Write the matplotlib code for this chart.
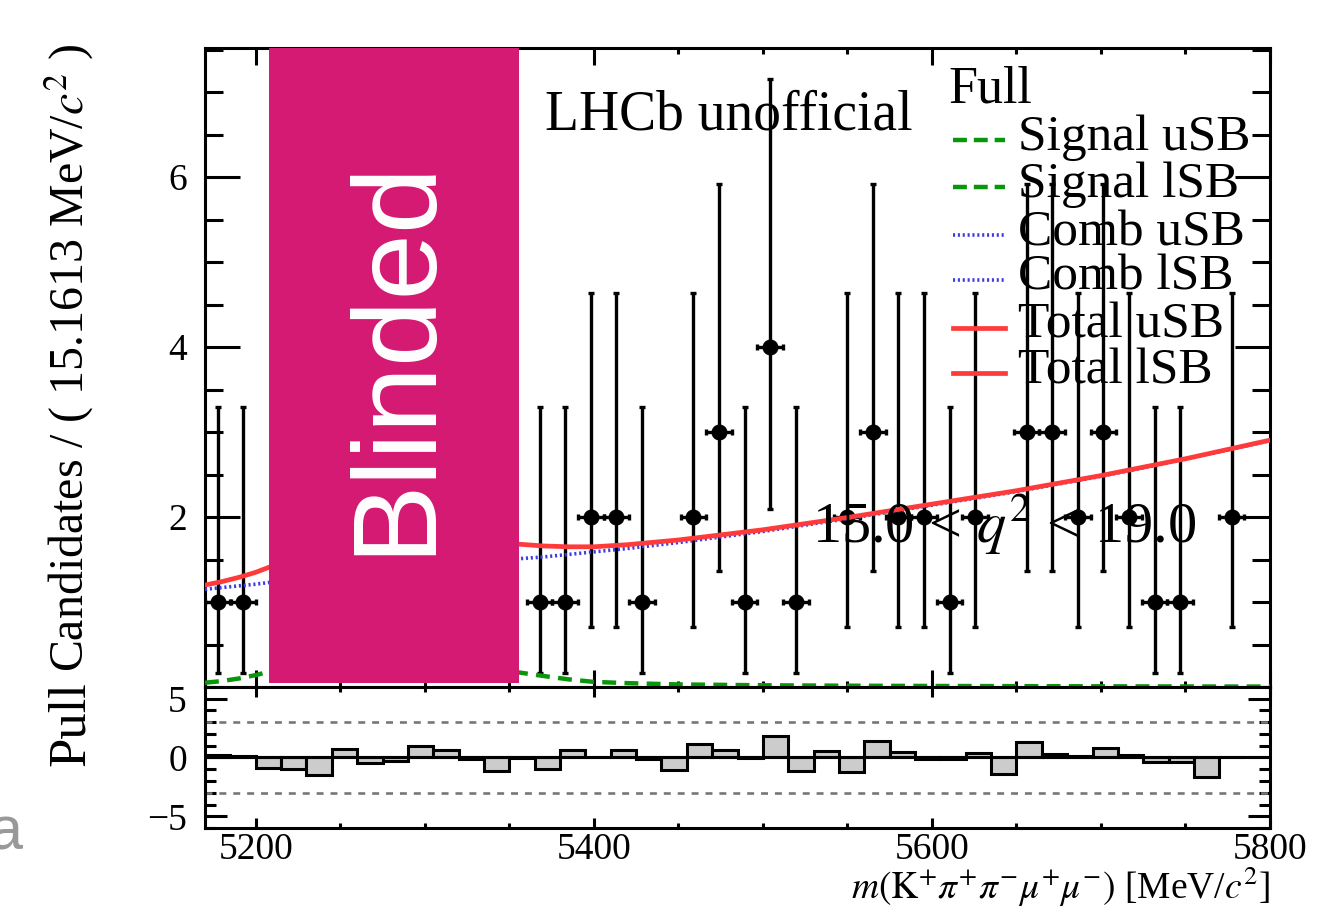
import numpy as np
import matplotlib
matplotlib.use('Agg')
import matplotlib.pyplot as plt
from matplotlib.ticker import MultipleLocator

plt.rcParams['font.family'] = ['Liberation Serif', 'DejaVu Serif']
plt.rcParams['mathtext.fontset'] = 'stix'
plt.rcParams['axes.linewidth'] = 2.2
plt.rcParams['lines.scale_dashes'] = False

# data points: lower sideband (5170-5200) and upper sideband (5360-5800)
bin_width = 15.1613
lower_centers = [5177.5, 5192.6]
lower_counts = [1, 1]
upper_first_center = 5367.9
upper_counts = [1, 1, 2, 2, 1, 0, 2, 3, 1, 4, 1, 0, 2, 3, 2, 2, 1, 2, 0, 3,
                3, 2, 3, 2, 1, 1, 0, 2, 0]

# asymmetric Poisson errors (low, high) per count
poisson_err = {1: (0.83, 2.30), 2: (1.29, 2.64), 3: (1.63, 2.92), 4: (1.91, 3.16)}

# fit curves sampled along each sideband
lower_x = [5170, 5180, 5190, 5200, 5208, 5220, 5235]
comb_lower = [1.15, 1.17, 1.19, 1.21, 1.23, 1.25, 1.28]
signal_lower = [0.05, 0.07, 0.10, 0.14, 0.18, 0.27, 0.45]
upper_x = [5340, 5356, 5370, 5385, 5400, 5420, 5450, 5500, 5550, 5600, 5650, 5700, 5750, 5800]
comb_upper = [1.45, 1.51, 1.53, 1.56, 1.59, 1.63, 1.70, 1.83, 1.98, 2.14, 2.30, 2.48, 2.68, 2.90]
signal_upper = [0.24, 0.17, 0.13, 0.09, 0.06, 0.045, 0.03, 0.02, 0.015, 0.012, 0.01, 0.008, 0.006, 0.005]

# pulls, 15 MeV bins from 5170
pull_start = 5170
pull_width = 15
pulls = [0.2, 0.15, -0.93, -1.02, -1.45, 0.76, -0.51, -0.31, 1.02, 0.62,
         -0.15, -1.13, -0.08, -1.02, 0.68, 0.0, 0.68, -0.15, -1.08, 1.13,
         0.62, -0.08, 1.81, -1.13, 0.57, -1.22, 1.42, 0.48, -0.1, -0.1,
         0.42, -1.42, 1.30, 0.3, 0.15, 0.85, 0.2, -0.42, -0.35, -1.7, 0.0]

blind_lo, blind_hi = 5208, 5356

red = '#ff3a3a'
blue = '#3c3ce6'
green = '#0a960a'
sig_dash = (10, 6)
comb_dash = (1.5, 2)

fig = plt.figure(figsize=(13.21, 9.11), dpi=100)
ax = fig.add_axes([0.1552, 0.2459, 0.8062, 0.7014])
axp = fig.add_axes([0.1552, 0.0911, 0.8062, 0.1548])

# data
upper_centers = upper_first_center + bin_width * np.arange(len(upper_counts))
centers = np.concatenate([lower_centers, upper_centers])
counts = np.array(lower_counts + upper_counts)
keep = counts > 0
xs = centers[keep]
ys = counts[keep]
yerr = np.array([poisson_err[c] for c in ys]).T
ax.errorbar(xs, ys, xerr=bin_width / 2, yerr=yerr, fmt='o', color='black',
            markersize=10.5, elinewidth=2.4, capsize=2.5, capthick=2.4, zorder=2)

# fit components
total_lower = np.add(comb_lower, signal_lower)
total_upper = np.add(comb_upper, signal_upper)
for x, sig, comb, tot in [(lower_x, signal_lower, comb_lower, total_lower),
                          (upper_x, signal_upper, comb_upper, total_upper)]:
    ax.plot(x, sig, color=green, lw=3.2, dashes=sig_dash, zorder=3)
    ax.plot(x, comb, color=blue, lw=2.6, dashes=comb_dash, zorder=3)
    ax.plot(x, tot, color=red, lw=3.4, zorder=3)

ax.fill_between([blind_lo, blind_hi], 0.05, 7.52, color='#d41a73', lw=0, zorder=4)
ax.text(5301.5, 3.90, 'Blinded', rotation=90, rotation_mode='anchor', ha='center',
        va='baseline', color='white', fontsize=86, family='Liberation Sans', zorder=5)

ax.set_xlim(5170, 5800)
ax.set_ylim(0, 7.52)
ax.set_xticks([5200, 5400, 5600, 5800])
ax.xaxis.set_minor_locator(MultipleLocator(50))
ax.set_yticks([2, 4, 6])
ax.yaxis.set_minor_locator(MultipleLocator(0.5))
ax.tick_params(which='both', direction='in', top=True, right=True, width=2.2, labelsize=27)
ax.tick_params(axis='x', which='major', length=12, labelbottom=False)
ax.tick_params(axis='x', which='minor', length=4.3)
ax.tick_params(axis='y', which='major', length=25, pad=13)
ax.tick_params(axis='y', which='minor', length=13)

# legend
ax.text(0.6977, 0.914, 'Full', transform=ax.transAxes, fontsize=37.5, va='baseline', zorder=5)
entries = [('Signal uSB', green, (10, 5), 3.2), ('Signal lSB', green, (10, 5), 3.2),
           ('Comb uSB', blue, comb_dash, 2.6), ('Comb lSB', blue, comb_dash, 2.6),
           ('Total uSB', red, None, 3.4), ('Total lSB', red, None, 3.4)]
row_base = [0.8404, 0.7668, 0.6917, 0.6213, 0.5462, 0.4757]
for (label, col, dash, lw), yb in zip(entries, row_base):
    line, = ax.plot([0.7023, 0.7512], [yb + 0.0156, yb + 0.0156], color=col, lw=lw,
                    transform=ax.transAxes, zorder=5, clip_on=False)
    if dash:
        line.set_dashes(dash)
    ax.text(0.7634, yb, label, transform=ax.transAxes, fontsize=37, va='baseline', zorder=5)

ax.text(0.3195, 0.8717, 'LHCb unofficial', transform=ax.transAxes, fontsize=40,
        va='baseline', zorder=5)
ax.text(0.5700, 0.2254, r'15.0 < $q^{2}$ < 19.0', transform=ax.transAxes, fontsize=42,
        va='baseline', zorder=6)

# pull panel
edges = pull_start + pull_width * np.arange(len(pulls) + 1)
axp.bar(edges[:-1], pulls, width=pull_width, align='edge', color='#cccccc',
        edgecolor='black', linewidth=2.2, zorder=3)
axp.axhline(0, color='black', lw=2.2, zorder=3)
for lev in (3, -3):
    axp.axhline(lev, color='#777777', lw=1.9, dashes=(5, 5), zorder=2)
axp.set_xlim(5170, 5800)
axp.set_ylim(-6, 6)
axp.set_xticks([5200, 5400, 5600, 5800])
axp.xaxis.set_minor_locator(MultipleLocator(50))
axp.set_yticks([-5, 0, 5])
axp.yaxis.set_minor_locator(MultipleLocator(1))
axp.tick_params(which='both', direction='in', top=True, right=True, width=2.2, labelsize=27)
axp.tick_params(axis='x', which='major', length=7, pad=3)
axp.tick_params(axis='x', which='minor', length=3.6)
axp.tick_params(axis='y', which='major', length=16, pad=13)
axp.tick_params(axis='y', which='minor', length=8)

fig.text(0.9614, 1 - 899 / 911, r'$m(\mathrm{K}^{+}\pi^{+}\pi^{-}\mu^{+}\mu^{-})$ [MeV/$c^{2}$]',
         ha='right', va='baseline', fontsize=27)

# axis titles drawn as in the ROOT pads
fig.text(84 / 1321, 1 - 44 / 911, r'Candidates / ( 15.1613 MeV/$c^{2}$ )', rotation=90,
         rotation_mode='anchor', ha='right', va='baseline', fontsize=34.5)
fig.text(84 / 1321, 1 - 724 / 911, 'Pull', rotation=90, rotation_mode='anchor',
         ha='center', va='baseline', fontsize=38)
fig.text(-0.0087, 1 - 850 / 911, 'a', color='#999999', fontsize=44,
         family='Liberation Sans', va='baseline')

fig.savefig('out.png', dpi=100)
